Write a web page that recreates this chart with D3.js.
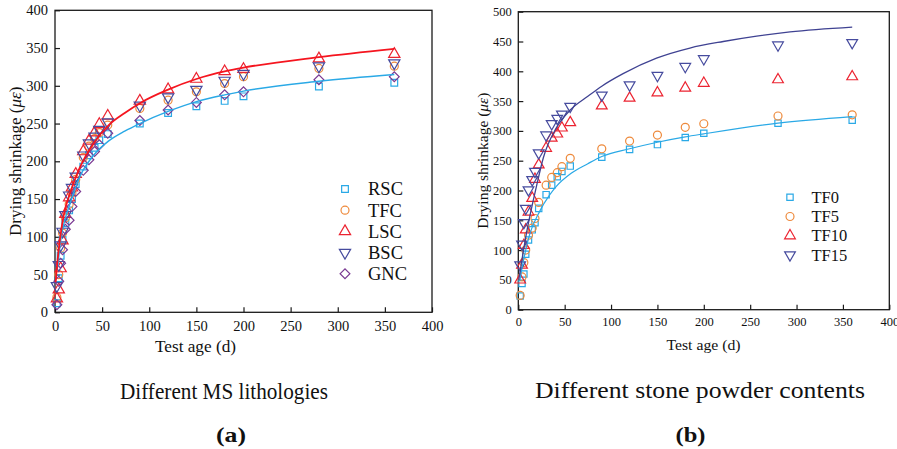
<!DOCTYPE html>
<html>
<head>
<meta charset="utf-8">
<script src="https://cdn.jsdelivr.net/npm/d3@7"></script>
<style>
  html, body { margin: 0; padding: 0; background: #fff; }
  svg { display: block; }
  svg text { font-family: "Liberation Serif", "Times New Roman", Times, "DejaVu Serif", serif; }
</style>
</head>
<body>
<svg id="chart" width="897" height="449"></svg>
<script>
// ---- Test ages (days) shared by both specimen groups ----
const ages = [2, 4, 6, 8, 11, 15, 18, 22, 30, 36, 42, 47, 56, 90, 120, 150, 180, 200, 280, 360];

// ---- (a) Different MS lithologies: drying shrinkage (με) ----
const seriesA = ["RSC", "TFC", "LSC", "BSC", "GNC"];
const rscValues = [12, 45, 75, 96, 118, 135, 150, 170, 193, 208, 218, 228, 236, 250, 264, 273, 280, 286, 299, 304];
const tfcValues = [20, 50, 85, 105, 125, 143, 158, 176, 205, 220, 230, 238, 248, 270, 281, 292, 303, 312, 323, 326];
const lscValues = [18, 30, 58, 95, 130, 152, 165, 183, 213, 227, 238, 249, 260, 280, 295, 309, 319, 322, 336, 342];
const bscValues = [35, 63, 89, 107, 129, 155, 165, 180, 208, 224, 233, 242, 252, 274, 285, 295, 307, 316, 326, 330];
const gncValues = [10, 41, 65, 83, 110, 122, 140, 160, 188, 202, 213, 222, 237, 254, 268, 278, 288, 292, 308, 312];

// fitted curves of (a)
const fitLscAge = [0.7, 2, 3.5, 9, 16, 25, 41, 57, 74, 90, 120, 150, 180, 200, 280, 360];
const fitLscVal = [40, 60, 78, 127, 158, 188, 224, 248, 264, 277, 295, 309, 319, 324, 338, 349];
const fitRscAge = [3, 5, 7, 10, 16, 26.5, 41, 57, 74, 90, 120, 150, 180, 200, 280, 360];
const fitRscVal = [60, 85, 103, 120, 144, 180, 208, 227, 240, 250, 266, 279, 288, 293, 306, 315];

// ---- (b) Different stone powder contents ----
const seriesB = ["TF0", "TF5", "TF10", "TF15"];
const tf0Values = [23, 44, 60, 93, 117, 134, 146, 170, 193, 209, 223, 232, 241, 256, 269, 277, 289, 296, 313, 318];
const tf5Values = [24, 55, 79, 100, 125, 137, 153, 180, 209, 222, 230, 240, 254, 270, 283, 293, 306, 312, 325, 327];
const tf10Values = [50, 75, 108, 134, 164, 187, 219, 243, 271, 288, 295, 305, 314, 342, 355, 364, 372, 380, 386, 391];
const tf15Values = [75, 110, 146, 170, 201, 218, 232, 263, 293, 312, 321, 328, 341, 360, 377, 393, 408, 421, 444, 448];

// fitted curves of (b)
const fitTf15Age = [0.5, 9, 20, 27, 41, 56, 75, 90, 113, 149, 185, 221, 257, 293, 360];
const fitTf15Val = [50, 130, 210, 255, 305, 335, 358, 375, 396, 422, 439, 450, 459, 466, 474];
const fitTf0Age = [1.5, 5, 12, 23, 34, 41, 57, 75, 90, 120, 150, 180, 200, 280, 360];
const fitTf0Val = [48, 78, 125, 165, 193, 207, 229, 245, 257, 270, 281, 290, 295, 313, 324];

// ---- axis ticks ----
const xTicks = [0, 50, 100, 150, 200, 250, 300, 350, 400];
const yTicksA = [0, 50, 100, 150, 200, 250, 300, 350, 400];
const yTicksB = [0, 50, 100, 150, 200, 250, 300, 350, 400, 450, 500];

const serif = '"Liberation Serif", "Times New Roman", Times, "DejaVu Serif", serif';

const colors = {
  cyan: "#2aa9e6",
  orange: "#ee8a3c",
  red: "#ec2330",
  navy: "#464b9e",
  purple: "#7b3a93",
  redLine: "#f5151f",
  navyLine: "#3f4292"
};

const svg = d3.select("#chart");

// marker shapes
const sym = {
  square: s => d3.symbol(d3.symbolSquare, s)(),
  circle: s => d3.symbol(d3.symbolCircle, s)(),
  triangle: s => d3.symbol(d3.symbolTriangle, s)(),
  diamond: s => d3.symbol(d3.symbolSquare, s)()
};

// text fitted to a given width (condensed typesetting of the figure)
function fittedText(g, t) {
  return g.append("text")
    .attr("x", t.x).attr("y", t.y)
    .attr("text-anchor", "middle")
    .attr("font-size", t.size)
    .attr("font-weight", t.bold ? "bold" : null)
    .attr("fill", "#111")
    .attr("textLength", t.len)
    .attr("lengthAdjust", "spacingAndGlyphs")
    .text(t.text);
}

function drawPanel(cfg) {
  const g = svg.append("g");
  const x = d3.scaleLinear().domain([0, 400]).range([cfg.left, cfg.right]);
  const y = d3.scaleLinear().domain([0, cfg.yMax]).range([cfg.bottom, cfg.top]);

  // axes with inward ticks
  const ax = g.append("g").attr("transform", `translate(0,${cfg.bottom})`)
    .call(d3.axisBottom(x).tickValues(xTicks).tickSizeInner(-5).tickSizeOuter(0).tickPadding(cfg.xPad));
  const ay = g.append("g").attr("transform", `translate(${cfg.left},0)`)
    .call(d3.axisLeft(y).tickValues(cfg.yTicks).tickSizeInner(-5).tickSizeOuter(0).tickPadding(cfg.yPad));
  [ax, ay].forEach(a => {
    a.attr("font-family", serif);
    a.select(".domain").remove();
    a.selectAll("line").attr("stroke", "#1a1a1a").attr("stroke-width", 1.2);
    a.selectAll("text").attr("fill", "#111").attr("font-size", cfg.tickFont)
      .style("font-family", serif);
  });

  // frame
  g.append("rect")
    .attr("x", cfg.left).attr("y", cfg.top)
    .attr("width", cfg.right - cfg.left).attr("height", cfg.bottom - cfg.top)
    .attr("fill", "none").attr("stroke", "#1a1a1a").attr("stroke-width", 1.3);

  // markers
  cfg.series.forEach(s => {
    g.append("g").selectAll("path")
      .data(ages.map((a, i) => [a, s.values[i]]))
      .join("path")
      .attr("d", sym[s.shape](s.size))
      .attr("transform", d => `translate(${x(d[0])},${y(d[1])})${s.rotate ? ` rotate(${s.rotate})` : ""}`)
      .attr("fill", "none")
      .attr("stroke", s.color)
      .attr("stroke-width", 1.2);
  });

  // fitted curves
  const line = d3.line().x(d => x(d[0])).y(d => y(d[1])).curve(d3.curveMonotoneX);
  cfg.fits.forEach(f => {
    g.append("path")
      .datum(f.ages.map((a, i) => [a, f.values[i]]))
      .attr("d", line)
      .attr("fill", "none")
      .attr("stroke", f.color)
      .attr("stroke-width", f.width);
  });

  // legend
  cfg.series.forEach((s, i) => {
    const ly = cfg.legend.y + i * cfg.legend.step;
    g.append("path")
      .attr("d", sym[s.shape](s.size))
      .attr("transform", `translate(${cfg.legend.x},${ly})${s.rotate ? ` rotate(${s.rotate})` : ""}`)
      .attr("fill", "none").attr("stroke", s.color).attr("stroke-width", 1.2);
    g.append("text")
      .attr("x", cfg.legend.tx).attr("y", ly)
      .attr("dy", "0.35em")
      .attr("font-size", cfg.legend.font)
      .attr("fill", "#111")
      .text(s.name);
  });

  // y axis title
  const yt = g.append("text")
    .attr("transform", `translate(${cfg.yTitleX},${(cfg.top + cfg.bottom) / 2}) rotate(-90)`)
    .attr("text-anchor", "middle")
    .attr("dy", "0.35em")
    .attr("font-size", cfg.yTitleFont)
    .attr("fill", "#111");
  yt.append("tspan").text("Drying shrinkage (");
  yt.append("tspan").attr("font-style", "italic").text("με");
  yt.append("tspan").text(")");

  // x axis title, caption and panel tag
  fittedText(g, cfg.xTitle);
  fittedText(g, cfg.caption);
  fittedText(g, cfg.tag);
}

drawPanel({
  left: 55, right: 432, top: 10.3, bottom: 312.3, yMax: 400,
  yTicks: yTicksA, tickFont: 14.5, xPad: 8, yPad: 7,
  series: [
    { name: "RSC", values: rscValues, color: colors.cyan, shape: "square", size: 45 },
    { name: "TFC", values: tfcValues, color: colors.orange, shape: "circle", size: 50 },
    { name: "LSC", values: lscValues, color: colors.red, shape: "triangle", size: 55 },
    { name: "BSC", values: bscValues, color: colors.navy, shape: "triangle", size: 55, rotate: 180 },
    { name: "GNC", values: gncValues, color: colors.purple, shape: "diamond", size: 48, rotate: 45 }
  ],
  fits: [
    { ages: fitRscAge, values: fitRscVal, color: colors.cyan, width: 1.4 },
    { ages: fitLscAge, values: fitLscVal, color: colors.redLine, width: 1.8 }
  ],
  legend: { x: 345, tx: 368, y: 189, step: 21.2, font: 18.5 },
  yTitleX: 15, yTitleFont: 17,
  xTitle: { text: "Test age (d)", x: 195.5, y: 352, size: 16, len: 81 },
  caption: { text: "Different MS lithologies", x: 224, y: 399, size: 24, len: 208 },
  tag: { text: "(a)", x: 231, y: 442, size: 22, len: 30, bold: true }
});

drawPanel({
  left: 518.3, right: 889.3, top: 11.7, bottom: 309.7, yMax: 500,
  yTicks: yTicksB, tickFont: 12.5, xPad: 7, yPad: 6.5,
  series: [
    { name: "TF0", values: tf0Values, color: colors.cyan, shape: "square", size: 40 },
    { name: "TF5", values: tf5Values, color: colors.orange, shape: "circle", size: 50 },
    { name: "TF10", values: tf10Values, color: colors.red, shape: "triangle", size: 50 },
    { name: "TF15", values: tf15Values, color: colors.navy, shape: "triangle", size: 50, rotate: 180 }
  ],
  fits: [
    { ages: fitTf0Age, values: fitTf0Val, color: colors.cyan, width: 1.2 },
    { ages: fitTf15Age, values: fitTf15Val, color: colors.navyLine, width: 1.3 }
  ],
  legend: { x: 790, tx: 811.5, y: 197.3, step: 19.2, font: 16.5 },
  yTitleX: 482.5, yTitleFont: 15.5,
  xTitle: { text: "Test age (d)", x: 703.5, y: 350, size: 15, len: 74 },
  caption: { text: "Different stone powder contents", x: 700, y: 398, size: 24, len: 330 },
  tag: { text: "(b)", x: 690.5, y: 442, size: 22, len: 30, bold: true }
});
</script>
</body>
</html>
